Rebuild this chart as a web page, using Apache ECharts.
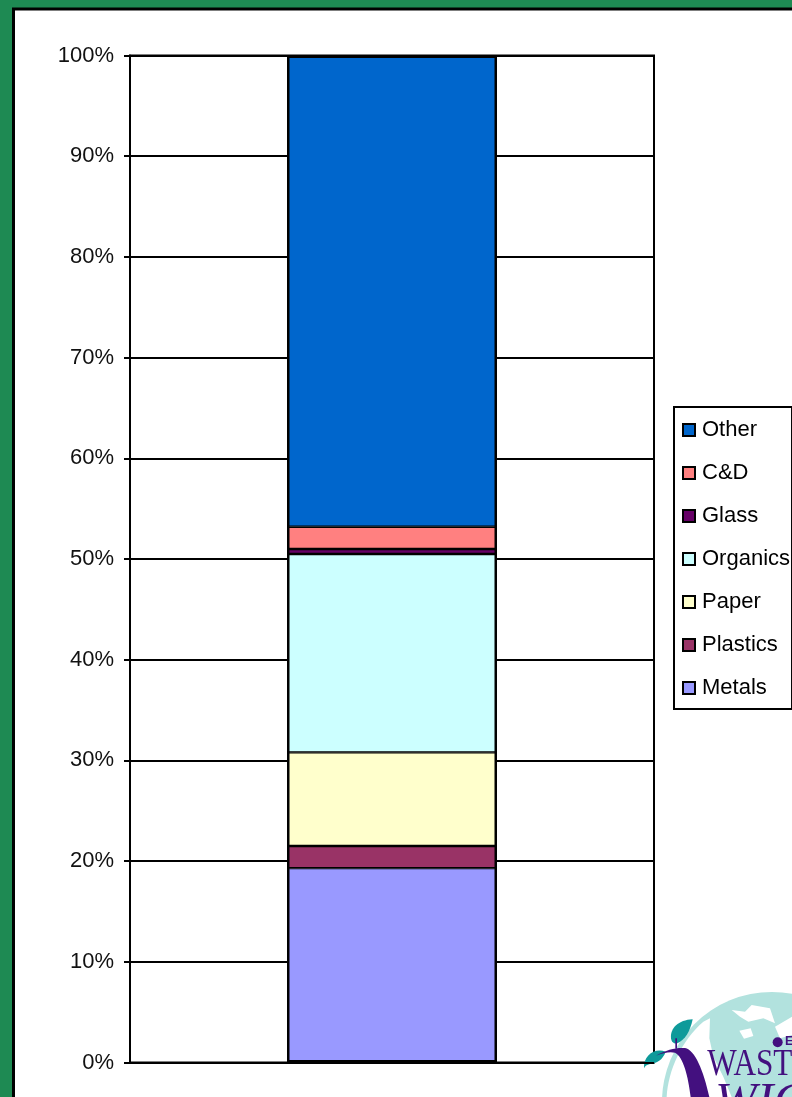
<!DOCTYPE html>
<html><head><meta charset="utf-8">
<style>html,body{margin:0;padding:0;background:#1E8A53}#c{width:792px;height:1097px}</style>
<script src="https://cdn.jsdelivr.net/npm/echarts@6/dist/echarts.min.js"></script>
</head><body><div id="c"></div>
<script>
const categories = ['Composition'];
const metals = [19.3];
const plastics = [2.2];
const paper = [9.3];
const organics = [19.7];
const glass = [0.5];
const cd = [2.2];
const other = [46.8];
const outline = [100];
const names = ['Metals','Plastics','Paper','Organics','Glass','C&D','Other'];
const colors = ['#9999FF','#993366','#FFFFCC','#CCFFFF','#660066','#FF8080','#0066CC'];
const values = [metals,plastics,paper,organics,glass,cd,other];
const FONT = '"Liberation Sans", Arial, sans-serif';
const teal='#B2E2DE', leaf='#0E9A9A', purple='#43107F';

const logoPaths = [
  ['#fff','M140 411 C145 330 185 240 250 185 L270 175 L268 235 L280 290 L310 350 L335 411 Z'],
  ['#fff','M335 150 L375 155 L395 135 L450 145 L465 190 L430 175 L385 185 L360 170 Z'],
  ['#fff','M358 212 L392 205 L400 228 L372 236 Z'],
  ['#fff','M465 200 L516 170 L516 225 L480 235 Z'],
  [leaf,'M72 325 C70 285 105 262 137 275 C128 300 110 310 90 312 C80 314 75 318 72 325 Z'],
  [leaf,'M218 178 C175 180 150 205 153 235 C155 250 165 252 172 250 C195 240 210 215 218 178 Z'],
  [purple,'M108 287 C140 268 170 262 195 264 C225 270 250 330 268 411 L212 411 C205 350 190 290 165 278 C150 274 130 278 108 287 Z'],
  [purple,'M166 235 L171 235 L171 266 L166 266 Z']
];
logoPaths.forEach((p,i)=>echarts.graphic.registerShape('logo'+i, echarts.graphic.extendPath(p[1],{})));

const chart = echarts.init(document.getElementById('c'), null, {renderer:'canvas'});
chart.setOption({
  animation:false,
  backgroundColor:'#1E8A53',
  grid:{left:130,top:55.5,width:524,height:1007,show:true,borderColor:'#000',borderWidth:2,backgroundColor:'transparent',containLabel:false},
  legend:{
    orient:'vertical',left:674,top:407,padding:[10,2,8,8],
    data:names.slice().reverse(),
    icon:'rect',
    itemWidth:12,itemHeight:12,itemGap:17,
    itemStyle:{borderColor:'#000',borderWidth:2},
    backgroundColor:'#fff',borderColor:'#000',borderWidth:2,
    textStyle:{fontFamily:FONT,fontSize:22,color:'#000',padding:[2,0,0,2],height:24,lineHeight:24}
  },
  xAxis:{type:'category',data:categories,
    axisLine:{show:false},axisTick:{show:false},axisLabel:{show:false}},
  yAxis:{type:'value',min:0,max:100,interval:10,
    axisLabel:{formatter:'{value}%',fontFamily:FONT,fontSize:22,color:'#111',margin:16,padding:[2,0,0,0]},
    axisLine:{show:true,lineStyle:{color:'#000',width:2}},
    axisTick:{show:true,length:6,lineStyle:{color:'#000',width:2}},
    splitLine:{show:true,lineStyle:{color:'#000',width:2}}},
  series:names.map((n,i)=>({
    name:n,type:'bar',stack:'all',data:values[i],barWidth:210,
    itemStyle:{color:colors[i],borderColor:'#000',borderWidth:1.2}
  })).concat([{
    name:'Outline',type:'bar',stack:'outline',data:outline,barWidth:210,barGap:'-100%',z:3,silent:true,
    itemStyle:{color:'transparent',borderColor:'#000',borderWidth:2.5}
  }]),
  graphic:[
    {type:'rect',z:-10,shape:{x:13.5,y:9,width:800,height:1100},style:{fill:'#fff',stroke:'#000',lineWidth:3}},
    {type:'group',x:620,y:960,scaleX:1/3,scaleY:1/3,z:50,silent:true,children:[
      {type:'circle',shape:{cx:456,cy:426,r:330},style:{fill:teal}},
      ...logoPaths.map((p,i)=>({type:'logo'+i,style:{fill:p[0]}})),
      {type:'text',x:262,y:372,scaleX:0.83,style:{text:'WAST',fontFamily:'"Liberation Serif",serif',fontSize:113,fill:purple,verticalAlign:'bottom',align:'left'}},
      {type:'text',x:285,y:508,style:{text:'WIC',fontFamily:'"Liberation Serif",serif',fontSize:150,fontStyle:'italic',fill:purple,verticalAlign:'bottom',align:'left'}},
      {type:'circle',shape:{cx:473,cy:247,r:15},style:{fill:purple}},
      {type:'text',x:495,y:264,style:{text:'E',fontFamily:'"Liberation Sans",sans-serif',fontWeight:'bold',fontSize:38,fill:purple,verticalAlign:'bottom',align:'left'}}
    ]}
  ]
});
</script></body></html>
